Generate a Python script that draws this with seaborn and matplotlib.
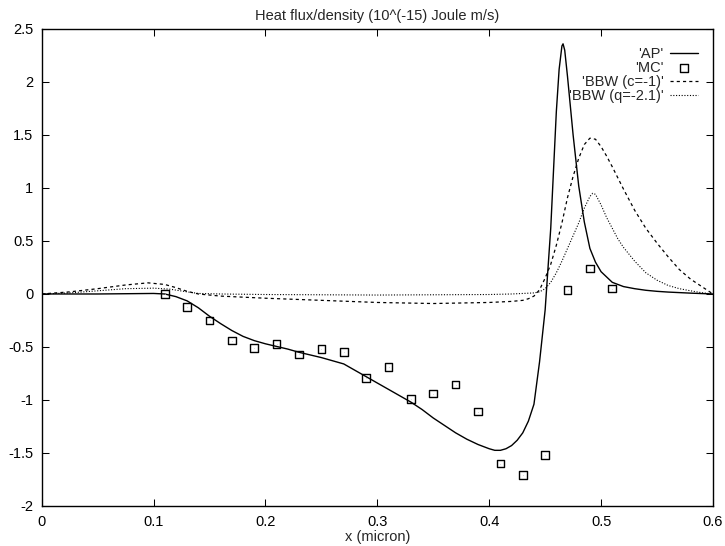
import numpy as np
import pandas as pd
import matplotlib
matplotlib.use("Agg")
import matplotlib.pyplot as plt
from matplotlib.ticker import MultipleLocator, StrMethodFormatter
import seaborn as sns

# AP curve (solid)
ap_x = [0.0, 0.05, 0.10, 0.11, 0.12, 0.13, 0.14, 0.15, 0.16, 0.17, 0.18, 0.19,
        0.20, 0.21, 0.22, 0.23, 0.24, 0.25, 0.26, 0.27, 0.28, 0.29, 0.30, 0.31,
        0.32, 0.33, 0.34, 0.35, 0.36, 0.37, 0.38, 0.39, 0.40, 0.405, 0.41, 0.415,
        0.42, 0.425, 0.43, 0.435, 0.44, 0.445, 0.45, 0.455, 0.46, 0.4625, 0.465,
        0.466, 0.4675, 0.47, 0.475, 0.48, 0.485, 0.49, 0.495, 0.50, 0.51, 0.52,
        0.53, 0.54, 0.55, 0.56, 0.58, 0.60]
ap_y = [0.0, 0.0, 0.005, 0.0, -0.025, -0.065, -0.13, -0.21, -0.28, -0.345, -0.40, -0.44,
        -0.47, -0.495, -0.52, -0.55, -0.575, -0.60, -0.63, -0.66, -0.72, -0.78, -0.84, -0.90,
        -0.96, -1.02, -1.09, -1.17, -1.24, -1.31, -1.37, -1.42, -1.46, -1.475, -1.475, -1.46,
        -1.43, -1.38, -1.31, -1.20, -1.04, -0.64, -0.15, 0.62, 1.72, 2.12, 2.34,
        2.36, 2.30, 2.05, 1.50, 1.02, 0.68, 0.43, 0.30, 0.21, 0.11, 0.07,
        0.05, 0.035, 0.025, 0.018, 0.008, 0.0]

# MC points (squares)
mc_x = [0.11, 0.13, 0.15, 0.17, 0.19, 0.21, 0.23, 0.25, 0.27, 0.29, 0.31,
        0.33, 0.35, 0.37, 0.39, 0.41, 0.43, 0.45, 0.47, 0.49, 0.51]
mc_y = [0.0, -0.12, -0.25, -0.44, -0.51, -0.47, -0.57, -0.52, -0.55, -0.79, -0.69,
        -0.99, -0.94, -0.855, -1.11, -1.60, -1.71, -1.52, 0.04, 0.24, 0.05]

# BBW (c=-1) (dashed)
bbwc_x = [0.0, 0.025, 0.05, 0.075, 0.095, 0.11, 0.12, 0.13, 0.14, 0.16, 0.20, 0.25,
          0.30, 0.35, 0.40, 0.42, 0.43, 0.435, 0.44, 0.445, 0.45, 0.455, 0.46, 0.465,
          0.47, 0.475, 0.48, 0.485, 0.49, 0.495, 0.50, 0.505, 0.51, 0.52, 0.53, 0.54,
          0.55, 0.56, 0.57, 0.58, 0.59, 0.60]
bbwc_y = [0.0, 0.02, 0.05, 0.085, 0.105, 0.09, 0.06, 0.025, 0.0, -0.02, -0.04, -0.06,
          -0.08, -0.09, -0.08, -0.07, -0.06, -0.045, -0.02, 0.04, 0.15, 0.28, 0.46, 0.67,
          0.91, 1.11, 1.28, 1.41, 1.47, 1.46, 1.39, 1.30, 1.20, 0.99, 0.79, 0.62,
          0.48, 0.35, 0.23, 0.14, 0.07, 0.0]

# BBW (q=-2.1) (dotted)
bbwq_x = [0.0, 0.025, 0.05, 0.075, 0.10, 0.115, 0.13, 0.14, 0.16, 0.20, 0.30, 0.40,
          0.42, 0.43, 0.44, 0.445, 0.45, 0.455, 0.46, 0.465, 0.47, 0.475, 0.48, 0.485,
          0.49, 0.4925, 0.495, 0.50, 0.505, 0.51, 0.515, 0.52, 0.53, 0.54, 0.55, 0.56,
          0.57, 0.58, 0.59, 0.60]
bbwq_y = [0.0, 0.01, 0.03, 0.05, 0.055, 0.045, 0.02, 0.005, 0.0, -0.005, -0.01, -0.005,
          0.0, 0.005, 0.01, 0.02, 0.05, 0.11, 0.20, 0.31, 0.43, 0.55, 0.67, 0.81,
          0.92, 0.95, 0.94, 0.84, 0.72, 0.62, 0.52, 0.44, 0.31, 0.20, 0.13, 0.08,
          0.05, 0.03, 0.012, 0.0]

sns.set_style("ticks")
plt.rcParams["font.family"] = ["Liberation Sans", "DejaVu Sans"]
plt.rcParams["axes.unicode_minus"] = False
plt.rcParams["xtick.direction"] = "in"
plt.rcParams["ytick.direction"] = "in"
plt.rcParams["xtick.top"] = True
plt.rcParams["ytick.right"] = True

fs = 10.5
fig, ax = plt.subplots(figsize=(7.25, 5.46), dpi=100)
fig.subplots_adjust(left=0.0575, right=0.9834, bottom=0.0733, top=0.9469)

sns.lineplot(x=ap_x, y=ap_y, ax=ax, color="black", lw=1.0, label="'AP'")
sns.scatterplot(x=mc_x, y=mc_y, ax=ax, marker="s", s=30, facecolor="none",
                edgecolor="black", linewidth=1.0, label="'MC'", zorder=3)
sns.scatterplot(x=mc_x, y=mc_y, ax=ax, marker=".", s=1, color="#777777",
                linewidth=0, legend=False, zorder=3)
sns.lineplot(x=bbwc_x, y=bbwc_y, ax=ax, color="black", lw=0.9,
             linestyle=(0, (2.5, 2.5)), label="'BBW (c=-1)'")
sns.lineplot(x=bbwq_x, y=bbwq_y, ax=ax, color="black", lw=0.8,
             linestyle=(0, (1, 1.5)), label="'BBW (q=-2.1)'")

ax.set_xlim(0, 0.6)
ax.set_ylim(-2, 2.5)
ax.xaxis.set_major_locator(MultipleLocator(0.1))
ax.yaxis.set_major_locator(MultipleLocator(0.5))
ax.xaxis.set_major_formatter(StrMethodFormatter("{x:g}"))
ax.yaxis.set_major_formatter(StrMethodFormatter("{x:g}"))
ax.tick_params(axis="both", which="major", length=4.8, width=0.75,
               labelsize=fs, colors="black")
ax.tick_params(axis="x", pad=6.5)
ax.tick_params(axis="y", pad=6)
for sp in ax.spines.values():
    sp.set_linewidth(1.0)
    sp.set_color("black")

ax.set_title("Heat flux/density (10^(-15) Joule m/s)", fontsize=fs, pad=6.5)
ax.set_xlabel("x (micron)", fontsize=fs, labelpad=1)
ax.set_ylabel("")

handles, labels = ax.get_legend_handles_labels()
leg = ax.legend(handles, labels, loc="upper right", bbox_to_anchor=(0.9777, 0.9625),
                frameon=False, markerfirst=False, fontsize=fs, borderpad=0,
                borderaxespad=0, labelspacing=0.0, handlelength=1.9,
                handletextpad=0.45, scatterpoints=1)

fig.savefig("out.png", dpi=100)
